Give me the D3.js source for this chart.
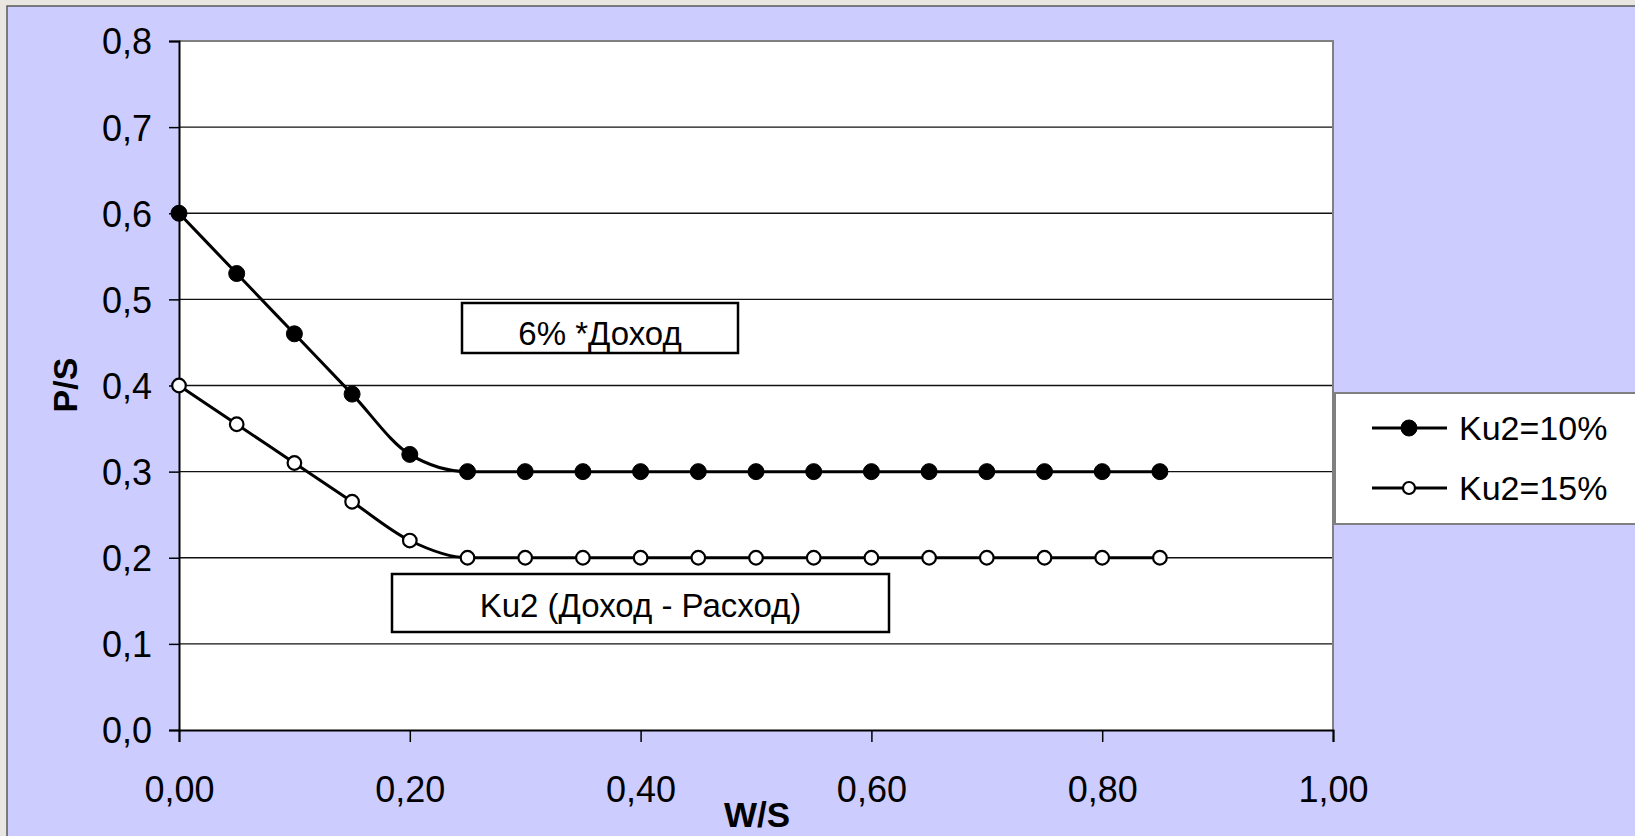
<!DOCTYPE html>
<html>
<head>
<meta charset="utf-8">
<script src="https://cdn.jsdelivr.net/npm/d3@7"></script>
<style>
  html, body { margin: 0; padding: 0; background: #e9e6e1; }
  svg { display: block; }
  text { font-family: "Liberation Sans", Arial, sans-serif; fill: #000; }
</style>
</head>
<body>
<svg id="chart" width="1635" height="836"></svg>
<script>
// ---- data ----
const wsValues = [0.00, 0.05, 0.10, 0.15, 0.20, 0.25, 0.30, 0.35, 0.40, 0.45, 0.50, 0.55, 0.60, 0.65, 0.70, 0.75, 0.80, 0.85];
const ku2_10 = [0.600, 0.530, 0.460, 0.390, 0.320, 0.300, 0.300, 0.300, 0.300, 0.300, 0.300, 0.300, 0.300, 0.300, 0.300, 0.300, 0.300, 0.300];
const ku2_15 = [0.400, 0.355, 0.310, 0.265, 0.220, 0.200, 0.200, 0.200, 0.200, 0.200, 0.200, 0.200, 0.200, 0.200, 0.200, 0.200, 0.200, 0.200];
const seriesNames = ["Ku2=10%", "Ku2=15%"];
const xTicks = [0, 0.2, 0.4, 0.6, 0.8, 1.0];
const yTicks = [0, 0.1, 0.2, 0.3, 0.4, 0.5, 0.6, 0.7, 0.8];
const xTitle = "W/S";
const yTitle = "P/S";
const note1 = "6% *Доход";
const note2 = "Ku2 (Доход - Расход)";

// ---- layout ----
const svg = d3.select("#chart");
const W = 1635, H = 836;
const plot = { left: 179, right: 1333, top: 41, bottom: 730 };
const fmtComma = (d, n) => d.toFixed(n).replace(".", ",");

// outer frame
svg.append("rect").attr("x", 0).attr("y", 0).attr("width", W).attr("height", H).attr("fill", "#e9e6e1");
svg.append("rect").attr("x", 7).attr("y", 6).attr("width", W).attr("height", H)
  .attr("fill", "#ccccff").attr("stroke", "#5a5a5a").attr("stroke-width", 1.5);

const x = d3.scaleLinear().domain([0, 1]).range([plot.left, plot.right]);
const y = d3.scaleLinear().domain([0, 0.8]).range([plot.bottom, plot.top]);

// plot area
svg.append("rect").attr("x", plot.left).attr("y", plot.top)
  .attr("width", plot.right - plot.left).attr("height", plot.bottom - plot.top)
  .attr("fill", "#ffffff");

// gridlines
svg.append("g").selectAll("line")
  .data(yTicks.filter(d => d > 0 && d < 0.8))
  .join("line")
  .attr("x1", plot.left).attr("x2", plot.right)
  .attr("y1", d => y(d)).attr("y2", d => y(d))
  .attr("stroke", "#111").attr("stroke-width", 1.4);

// top & right border (gray)
svg.append("path")
  .attr("d", `M${plot.left},${plot.top}H${plot.right}V${plot.bottom}`)
  .attr("fill", "none").attr("stroke", "#808080").attr("stroke-width", 2);

// y axis
const yAxis = d3.axisLeft(y).tickValues(yTicks).tickSize(10).tickPadding(17)
  .tickFormat(d => fmtComma(d, 1));
const gy = svg.append("g").attr("transform", `translate(${plot.left},0)`).call(yAxis);
gy.select(".domain").attr("stroke", "#000").attr("stroke-width", 2);
gy.selectAll(".tick line").attr("stroke", "#000").attr("stroke-width", 1.5);
gy.selectAll(".tick text").attr("font-size", 36).attr("font-family", "Liberation Sans, Arial, sans-serif")
  .attr("fill", "#000").attr("dy", "0.36em");

// x axis
const xAxis = d3.axisBottom(x).tickValues(xTicks).tickSize(12).tickPadding(49)
  .tickFormat(d => fmtComma(d, 2));
const gx = svg.append("g").attr("transform", `translate(0,${plot.bottom})`).call(xAxis);
gx.select(".domain").attr("stroke", "#000").attr("stroke-width", 2);
gx.selectAll(".tick line").attr("stroke", "#000").attr("stroke-width", 1.5);
gx.selectAll(".tick text").attr("font-size", 36).attr("font-family", "Liberation Sans, Arial, sans-serif")
  .attr("fill", "#000").attr("dy", "0.3em");

// axis titles
svg.append("text").attr("transform", `translate(77,385) rotate(-90)`)
  .attr("text-anchor", "middle").attr("font-size", 34).attr("font-weight", "bold")
  .text(yTitle);
svg.append("text").attr("x", 757).attr("y", 827)
  .attr("text-anchor", "middle").attr("font-size", 35).attr("font-weight", "bold")
  .text(xTitle);

// series lines
const line = d3.line().curve(d3.curveMonotoneX);
const seriesData = [ku2_10, ku2_15];
seriesData.forEach((vals, i) => {
  const pts = wsValues.map((w, j) => [x(w), y(vals[j])]);
  svg.append("path").attr("d", line(pts)).attr("fill", "none")
    .attr("stroke", "#000").attr("stroke-width", 3);
});
// markers
seriesData.forEach((vals, i) => {
  svg.append("g").selectAll("circle")
    .data(wsValues.map((w, j) => [w, vals[j]]))
    .join("circle")
    .attr("cx", d => x(d[0])).attr("cy", d => y(d[1]))
    .attr("r", i === 0 ? 8 : 6.8)
    .attr("fill", i === 0 ? "#000" : "#fff")
    .attr("stroke", "#000").attr("stroke-width", i === 0 ? 1 : 2.2);
});

// annotation boxes
function noteBox(x0, y0, w, h, txt, ty) {
  svg.append("rect").attr("x", x0).attr("y", y0).attr("width", w).attr("height", h)
    .attr("fill", "#fff").attr("stroke", "#000").attr("stroke-width", 2.5);
  svg.append("text").attr("x", x0 + w / 2).attr("y", ty)
    .attr("text-anchor", "middle").attr("font-size", 33).text(txt);
}
noteBox(462, 303, 276, 50, note1, 345);
noteBox(392, 574, 497, 58, note2, 617);

// legend
const lg = svg.append("g");
lg.append("rect").attr("x", 1335).attr("y", 393).attr("width", 320).attr("height", 131)
  .attr("fill", "#fff").attr("stroke", "#808080").attr("stroke-width", 2);
const legY = [428, 488];
seriesNames.forEach((name, i) => {
  lg.append("line").attr("x1", 1372).attr("x2", 1447).attr("y1", legY[i]).attr("y2", legY[i])
    .attr("stroke", "#000").attr("stroke-width", 3);
  lg.append("circle").attr("cx", 1409).attr("cy", legY[i]).attr("r", i === 0 ? 8 : 6)
    .attr("fill", i === 0 ? "#000" : "#fff").attr("stroke", "#000").attr("stroke-width", i === 0 ? 1 : 2.2);
  lg.append("text").attr("x", 1459).attr("y", legY[i]).attr("dy", "0.36em")
    .attr("font-size", 34).text(name);
});
</script>
</body>
</html>
